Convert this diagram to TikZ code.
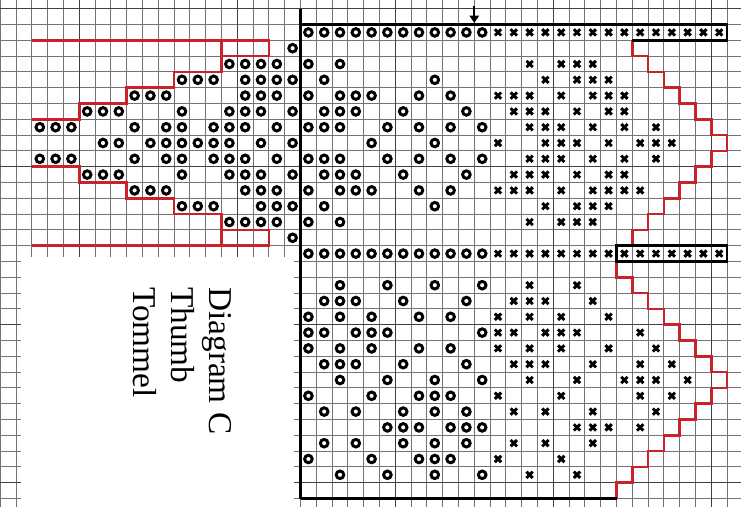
\documentclass[tikz,border=0pt]{standalone}
\usepackage{fontspec}
\setmainfont{Liberation Serif}
\usetikzlibrary{arrows.meta}
\definecolor{gridc}{gray}{0.45}
\definecolor{gridh}{gray}{0.25}
\definecolor{redl}{RGB}{200,35,45}
\tikzset{
 gridthin/.style={draw=gridc, line width=0.8pt},
 gridheavy/.style={draw=gridh, line width=1.15pt},
 blackline/.style={draw=black, line width=2pt},
 redline/.style={draw=redl, line width=1.9pt, line join=miter},
 circmark/.style={draw=black, line width=2.2pt},
 xmark/.style={draw=black, line width=2.2pt},
 titletext/.style={font=\fontsize{25}{30}\selectfont, inner sep=0pt, rotate=-90, anchor=base west},
}
\newcommand\Crow[2]{\foreach \c in {#2} {\draw[circmark] (\c+0.5,#1+0.5) circle[radius=2.85pt];}}
\newcommand\Xrow[2]{\foreach \c in {#2} {\draw[xmark] (\c+0.3,#1+0.3) -- (\c+0.7,#1+0.7) (\c+0.3,#1+0.7) -- (\c+0.7,#1+0.3);}}
\begin{document}
\begin{tikzpicture}[x=11.85pt, y=-11.85pt]
\useasboundingbox (-0.019,-0.551) rectangle (46.88,31.475);
\fill[white] (-0.019,-0.551) rectangle (46.88,31.475);
% grid
\foreach \i in {0,...,46} \draw[gridthin] (\i,-0.6) -- (\i,31.6);
\foreach \j in {0,...,31} \draw[gridthin] (-0.1,\j) -- (47,\j);
\foreach \i in {5,15,25,35,45} \draw[gridheavy] (\i,-0.6) -- (\i,31.6);
\foreach \j in {0,10,20,30} \draw[gridheavy] (-0.1,\j) -- (47,\j);
% white label box
\fill[white] (1.31,15.71) rectangle (18.56,31.6);
% red outlines
\draw[redline] (2,2) -- (17,2) -- (17,3) -- (14,3) -- (14,4) -- (11,4) -- (11,5) -- (8,5) -- (8,6) -- (5,6) -- (5,7) -- (2,7);
\draw[redline] (14,2) -- (14,3);
\draw[redline] (2,10) -- (5,10) -- (5,11) -- (8,11) -- (8,12) -- (11,12) -- (11,13) -- (14,13) -- (14,14) -- (17,14) -- (17,15) -- (2,15);
\draw[redline] (14,14) -- (14,15);
\draw[redline] (40,2) -- (40,3) -- (41,3) -- (41,4) -- (42,4) -- (42,5) -- (43,5) -- (43,6) -- (44,6) -- (44,7) -- (45,7) -- (45,8) -- (46,8) -- (46,9) -- (45,9) -- (45,10) -- (44,10) -- (44,11) -- (43,11) -- (43,12) -- (42,12) -- (42,13) -- (41,13) -- (41,14) -- (40,14) -- (40,15);
\draw[redline] (39,16) -- (39,17) -- (40,17) -- (40,18) -- (41,18) -- (41,19) -- (42,19) -- (42,20) -- (43,20) -- (43,21) -- (44,21) -- (44,22) -- (45,22) -- (45,23) -- (46,23) -- (46,24) -- (45,24) -- (45,25) -- (44,25) -- (44,26) -- (43,26) -- (43,27) -- (42,27) -- (42,28) -- (41,28) -- (41,29) -- (40,29) -- (40,30) -- (39,30) -- (39,31);
% black lines
\draw[blackline] (19,0) -- (19,31);
\draw[blackline] (19,1) -- (46,1) -- (46,2) -- (40,2);
\draw[blackline] (39,15) rectangle (46,16);
\draw[blackline] (19,31) -- (39,31);
% arrow
\coordinate (arrS) at (30,-0.15);
\coordinate (arrE) at (30,0.9);
\draw[line width=1.5pt, -{Triangle[width=7pt,length=5.5pt]}] (arrS) -- (arrE);
% marks
\Crow{1}{19,...,30} \Xrow{1}{31,...,45}
\Crow{2}{18}
\Crow{3}{14,15,16,17,19,21} \Xrow{3}{33,35,36,37}
\Crow{4}{11,12,13,15,16,17,18,20,27} \Xrow{4}{34,36,37,38}
\Crow{5}{8,9,10,15,16,17,19,21,22,23,26,28} \Xrow{5}{31,32,33,35,37,38,39}
\Crow{6}{5,6,7,11,14,15,16,18,20,21,22,25,29} \Xrow{6}{32,33,34,36,38,39}
\Crow{7}{2,3,4,8,10,11,13,14,15,17,19,20,21,24,26,28,30} \Xrow{7}{33,34,35,37,39,41}
\Crow{8}{6,7,9,10,11,12,13,14,16,18,23,27} \Xrow{8}{31,34,35,36,38,40,41,42}
\Crow{9}{2,3,4,8,10,11,13,14,15,17,19,20,21,24,26,28,30} \Xrow{9}{33,34,35,37,39,41}
\Crow{10}{5,6,7,11,14,15,16,18,20,21,22,25,29} \Xrow{10}{32,33,34,36,38,39}
\Crow{11}{8,9,10,15,16,17,19,21,22,23,26,28} \Xrow{11}{31,32,33,35,37,38,39,40}
\Crow{12}{11,12,13,16,17,18,20,27} \Xrow{12}{34,36,37,38}
\Crow{13}{14,15,16,17,19,21} \Xrow{13}{33,35,36,37}
\Crow{14}{18}
\Crow{15}{19,...,30} \Xrow{15}{31,...,45}
\Crow{17}{21,24,27,30} \Xrow{17}{33,36}
\Crow{18}{20,21,22,25,29} \Xrow{18}{32,33,34,37}
\Crow{19}{19,21,23,26,28} \Xrow{19}{31,33,35,38}
\Crow{20}{19,20,22,23,24,30} \Xrow{20}{31,32,34,35,36,40}
\Crow{21}{19,21,23,26,28} \Xrow{21}{31,33,35,38,41}
\Crow{22}{20,21,22,25,29} \Xrow{22}{32,33,34,37,40,42}
\Crow{23}{21,24,27,30} \Xrow{23}{33,36,39,40,41,43}
\Crow{24}{19,23,26,27,28} \Xrow{24}{31,35,40,42}
\Crow{25}{20,22,25,27,29} \Xrow{25}{32,34,37,41}
\Crow{26}{24,25,26,28,29,30} \Xrow{26}{36,37,38,40}
\Crow{27}{20,22,25,27,29} \Xrow{27}{32,34,37}
\Crow{28}{19,23,26,27,28} \Xrow{28}{31,35}
\Crow{29}{21,24,27,30} \Xrow{29}{33,36}
% title
\node[titletext] (t1) at (13.27,17.61) {Diagram C};
\node[titletext] (t2) at (10.85,17.61) {Thumb};
\node[titletext] (t3) at (8.42,17.61) {Tommel};
\end{tikzpicture}
\end{document}
